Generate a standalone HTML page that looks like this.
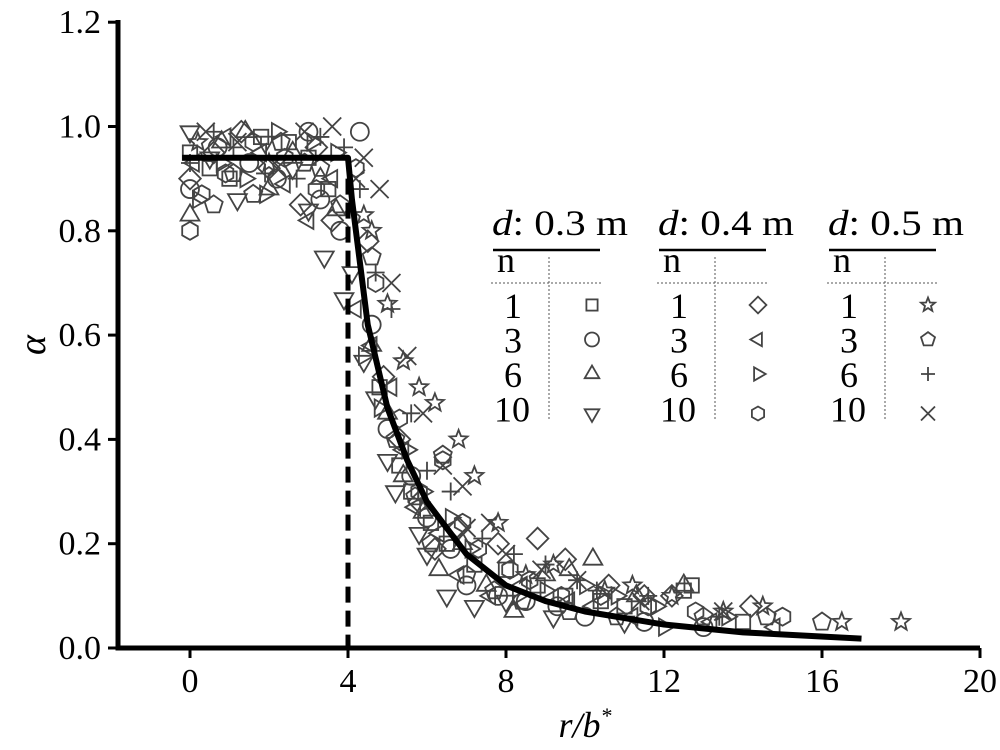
<!DOCTYPE html>
<html><head><meta charset="utf-8"><style>
body{margin:0;background:#fff}
svg{display:block;font-family:"Liberation Serif",serif}
</style></head><body>
<svg id="chart" width="1000" height="750" viewBox="0 0 1000 750" xmlns="http://www.w3.org/2000/svg"></svg>
<script>
const xTicks=[0,4,8,12,16,20];
const yTicks=[0,0.2,0.4,0.6,0.8,1.0,1.2];
const fitX=[-0.2,4,4.1,4.5,5,5.5,6,7,8,9,10,12,14,17];
const fitY=[0.94,0.94,0.86,0.62,0.46,0.36,0.28,0.18,0.12,0.09,0.07,0.045,0.03,0.018];
const breakX=4;
const sSquare=[[0,0.95],[1,0.9],[2.5,0.97],[3.5,0.88],[4.8,0.5],[5.6,0.3],[6.5,0.2],[8,0.15],[9.5,0.1],[11,0.08],[12.5,0.11],[14,0.05],[0.5,0.92],[1.8,0.98],[3,0.94],[5.3,0.35],[6.1,0.24],[7.2,0.16],[8.8,0.12],[10.4,0.09],[12.7,0.12]];
const sCircle=[[0,0.88],[1.5,0.93],[3,0.99],[3.8,0.8],[4.3,0.99],[5,0.42],[6,0.25],[7,0.12],[8.5,0.09],[10,0.06],[11.5,0.05],[13,0.04],[0.7,0.96],[2.2,0.9],[3.3,0.86],[4.6,0.62],[5.6,0.33],[6.6,0.19],[7.8,0.1],[9.3,0.08]];
const sTriUp=[[0,0.83],[0.8,0.97],[2,0.88],[3.3,0.9],[4.6,0.58],[5.4,0.33],[6.3,0.15],[7.5,0.12],[9,0.14],[10.2,0.17],[12.5,0.12],[8.2,0.07],[1.4,0.99],[2.6,0.95],[3.7,0.84],[5,0.45],[5.9,0.26],[6.9,0.2],[9.6,0.15],[11.3,0.1]];
const sTriDown=[[0,0.99],[1.2,0.86],[2.6,0.92],[3.4,0.75],[4.1,0.72],[4.7,0.48],[5.2,0.3],[5.8,0.22],[6.5,0.1],[7.2,0.08],[9.2,0.06],[11,0.05],[0.5,0.94],[1.9,0.97],[3,0.84],[3.9,0.67],[4.4,0.55],[5,0.36],[6,0.18],[8,0.09]];
const sDiamond=[[0,0.9],[1.3,0.99],[2.8,0.85],[3.6,0.82],[4.5,0.78],[5.3,0.4],[6.2,0.19],[7.8,0.2],[8.8,0.21],[10.6,0.12],[12.2,0.1],[14.2,0.08],[0.6,0.95],[2,0.92],[3.2,0.96],[4.9,0.52],[5.8,0.28],[6.8,0.23],[9.5,0.17],[11.5,0.1]];
const sTriLeft=[[0.1,0.93],[1.8,0.95],[3,0.82],[4.2,0.65],[5.1,0.5],[5.7,0.27],[6.8,0.14],[7.6,0.1],[9.6,0.09],[11.2,0.06],[13.2,0.05],[14.8,0.04],[0.9,0.98],[2.4,0.89],[3.6,0.9],[4.6,0.58],[5.4,0.38],[6.3,0.22],[8.4,0.12],[10.2,0.08]];
const sTriRight=[[0.2,0.86],[1.4,0.9],[2.2,0.99],[3.7,0.95],[4.4,0.56],[5.5,0.38],[6.6,0.25],[8.3,0.1],[10,0.12],[11.8,0.08],[13.6,0.06],[12,0.04],[0.8,0.93],[1.9,0.87],[3.1,0.97],[4.8,0.46],[5.9,0.3],[7.1,0.19],[9,0.11],[10.8,0.1]];
const sHex=[[0,0.8],[0.9,0.91],[2.4,0.94],[4.2,0.92],[4.7,0.7],[5.3,0.44],[6.4,0.36],[7.3,0.19],[8.6,0.13],[10.4,0.1],[12.8,0.07],[15,0.06],[0.3,0.87],[1.6,0.97],[3.2,0.88],[5.8,0.3],[6.9,0.24],[8.1,0.15],[9.4,0.1],[11.6,0.08]];
const sStar=[[0.2,0.97],[2,0.93],[4.4,0.83],[5,0.66],[5.4,0.55],[6.2,0.47],[7.2,0.33],[8.5,0.14],[10.5,0.11],[12.2,0.1],[14.5,0.08],[16.5,0.05],[18,0.05],[4.6,0.8],[5.8,0.5],[6.8,0.4],[7.8,0.24],[9.2,0.16],[11.2,0.12],[13.5,0.07]];
const sPent=[[0.6,0.85],[1.6,0.87],[2.9,0.93],[3.8,0.85],[4.6,0.75],[5.2,0.4],[6.4,0.37],[7,0.14],[8.4,0.09],[10.8,0.06],[13,0.06],[16,0.05],[14.6,0.06],[1.1,0.91],[2.3,0.97],[3.3,0.92],[5.7,0.29],[6.1,0.2],[7.7,0.11],[9.6,0.07]];
const sPlus=[[0,0.93],[1.1,0.96],[2.7,0.9],[3.9,0.96],[4.3,0.88],[5.1,0.65],[6,0.34],[7.4,0.21],[9,0.16],[10.3,0.11],[11.6,0.1],[13.4,0.06],[0.6,0.99],[1.9,0.91],[3.3,0.98],[4.7,0.72],[5.6,0.45],[6.6,0.3],[8.2,0.18],[9.8,0.13]];
const sCross=[[0.4,0.99],[2.2,0.92],[3.6,1.0],[4.4,0.94],[4.8,0.88],[5.5,0.56],[6.9,0.31],[7,0.23],[8,0.18],[9.8,0.13],[11.4,0.09],[13.5,0.07],[1.2,0.97],[2.9,0.99],[4.2,0.9],[5.1,0.7],[5.9,0.45],[6.4,0.35],[7.6,0.24],[8.9,0.15]];

const svg=document.getElementById('chart');
const NS='http://www.w3.org/2000/svg';
const X=v=>190+v*39.5;
const Y=v=>648-v*521.5;
function mk(tag,attrs,parent){const e=document.createElementNS(NS,tag);for(const k in attrs)e.setAttribute(k,attrs[k]);(parent||svg).appendChild(e);return e;}
const C='#444';
function marker(type,cx,cy,s,parent){
  const a={fill:'none',stroke:C,'stroke-width':1.8};
  const poly=(n,r,rot)=>{let p=[];for(let i=0;i<n;i++){const t=rot+i*2*Math.PI/n;p.push((cx+r*Math.cos(t)).toFixed(1)+','+(cy+r*Math.sin(t)).toFixed(1));}return p.join(' ');};
  let e;
  if(type==='square')e=mk('rect',Object.assign({x:cx-s*0.8,y:cy-s*0.8,width:s*1.6,height:s*1.6},a),parent);
  else if(type==='circle')e=mk('circle',Object.assign({cx:cx,cy:cy,r:s},a),parent);
  else if(type==='triUp')e=mk('polygon',Object.assign({points:poly(3,s*1.2,-Math.PI/2)},a),parent);
  else if(type==='triDown')e=mk('polygon',Object.assign({points:poly(3,s*1.2,Math.PI/2)},a),parent);
  else if(type==='diamond')e=mk('polygon',Object.assign({points:poly(4,s*1.2,0)},a),parent);
  else if(type==='triLeft')e=mk('polygon',Object.assign({points:poly(3,s*1.1,Math.PI)},a),parent);
  else if(type==='triRight')e=mk('polygon',Object.assign({points:poly(3,s*1.1,0)},a),parent);
  else if(type==='hex')e=mk('polygon',Object.assign({points:poly(6,s,-Math.PI/2)},a),parent);
  else if(type==='pent')e=mk('polygon',Object.assign({points:poly(5,s*1.05,-Math.PI/2)},a),parent);
  else if(type==='star'){let p=[];for(let i=0;i<10;i++){const r=i%2?s*0.45:s*1.05;const t=-Math.PI/2+i*Math.PI/5;p.push((cx+r*Math.cos(t)).toFixed(1)+','+(cy+r*Math.sin(t)).toFixed(1));}e=mk('polygon',Object.assign({points:p.join(' ')},a),parent);}
  else if(type==='plus')e=mk('path',Object.assign({d:`M${cx-s} ${cy}H${cx+s}M${cx} ${cy-s}V${cy+s}`},a),parent);
  else e=mk('path',Object.assign({d:`M${cx-s} ${cy-s}L${cx+s} ${cy+s}M${cx-s} ${cy+s}L${cx+s} ${cy-s}`},a),parent);
  return e;
}
const series=[['square',sSquare],['circle',sCircle],['triUp',sTriUp],['triDown',sTriDown],['diamond',sDiamond],['triLeft',sTriLeft],['triRight',sTriRight],['hex',sHex],['star',sStar],['pent',sPent],['plus',sPlus],['cross',sCross]];
const sg=mk('g',{});


series.forEach(([t,pts])=>{pts.forEach(p=>{const m=marker(t,X(p[0]),Y(p[1]),9,sg);

});});
const dl=mk('line',{x1:X(breakX),y1:Y(0.9),x2:X(breakX),y2:648,stroke:'#000','stroke-width':5,'stroke-dasharray':'16,8'});


const fl=mk('polyline',{points:fitX.map((x,i)=>X(x)+','+Y(fitY[i])).join(' '),fill:'none',stroke:'#000','stroke-width':6,'stroke-linejoin':'round'});


const ax=mk('path',{d:'M118 20V648H980',fill:'none',stroke:'#000','stroke-width':5});


xTicks.forEach(v=>{mk('line',{x1:X(v),y1:648,x2:X(v),y2:658,stroke:'#000','stroke-width':3});
const t=mk('text',{x:X(v),y:692,'text-anchor':'middle','font-size':34});t.textContent=v;

});
yTicks.forEach(v=>{mk('line',{x1:108,y1:Y(v),x2:118,y2:Y(v),stroke:'#000','stroke-width':3});
const t=mk('text',{x:101,y:Y(v)+11,'text-anchor':'end','font-size':34});t.textContent=v.toFixed(1);

});
const xt=mk('text',{x:585,y:737,'text-anchor':'middle','font-size':36,'font-style':'italic'});
xt.innerHTML='r/b<tspan dy="-14" font-size="22">*</tspan>';


const yt=mk('text',{x:45,y:345,'text-anchor':'middle','font-size':38,'font-style':'italic',transform:'rotate(-90 45 345)'});
yt.textContent='α';


const groups=[['0.3',['square','circle','triUp','triDown']],['0.4',['diamond','triLeft','triRight','hex']],['0.5',['star','pent','plus','cross']]];
const offs=[0,166,336];
const ns=['1','3','6','10'];
groups.forEach(([d,ts],gi)=>{
  const o=offs[gi];
  const g=mk('g',{});
  
  
  const tt=mk('text',{x:492+o,y:235,'font-size':36,textLength:136,lengthAdjust:'spacingAndGlyphs'},g);tt.innerHTML='<tspan font-style="italic">d</tspan>: '+d+' m';
  mk('line',{x1:493+o,y1:250,x2:600+o,y2:250,stroke:'#000','stroke-width':2.5},g);
  const nt=mk('text',{x:497+o,y:272,'font-size':36},g);nt.textContent='n';
  mk('line',{x1:491+o,y1:283,x2:601+o,y2:283,stroke:'#555','stroke-width':1,'stroke-dasharray':'2,2'},g);
  mk('line',{x1:549+o,y1:257,x2:549+o,y2:420,stroke:'#555','stroke-width':1,'stroke-dasharray':'2,2'},g);
  ts.forEach((t,i)=>{const cy=305+i*34.5;
    const l=mk('text',{x:ns[i].length>1?494+o:504+o,y:cy+13,'font-size':36},g);l.textContent=ns[i];
    const m=marker(t,592+o,cy+(i==3?5:0),7,g);
    
    });
});
</script>
</body></html>
